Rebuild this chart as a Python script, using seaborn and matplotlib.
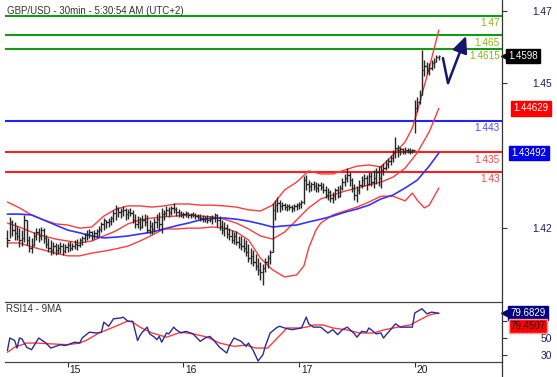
import numpy as np
import pandas as pd
import matplotlib
matplotlib.use("Agg")
import matplotlib.pyplot as plt
import matplotlib.transforms as mtransforms
from matplotlib.lines import Line2D
from matplotlib.patches import FancyArrowPatch
import seaborn as sns

# ---------------- data ----------------
title = "GBP/USD - 30min - 5:30:54 AM (UTC+2)"
rsi_title = "RSI14 - 9MA"

day_idx = [25, 73, 121, 169]
day_labels = ["15", "16", "17", "20"]

price_tick_vals = [1.4713, 1.4529, 1.4157]
price_tick_labels = ["1.47", "1.45", "1.42"]
rsi_tick_vals = [70, 50, 30]
rsi_tick_labels = ["", "50", "30"]

first_open = 1.4131
highs = [
    1.4151, 1.4185, 1.4177, 1.4172, 1.4162, 1.4156, 1.4151, 1.4190, 1.4177, 1.4136,
    1.4131, 1.4146, 1.4156, 1.4156, 1.4159, 1.4156, 1.4138, 1.4131, 1.4126, 1.4120,
    1.4118, 1.4115, 1.4120, 1.4118, 1.4115, 1.4120, 1.4123, 1.4118, 1.4126, 1.4128,
    1.4131, 1.4136, 1.4144, 1.4151, 1.4154, 1.4149, 1.4151, 1.4154, 1.4162, 1.4172,
    1.4182, 1.4177, 1.4182, 1.4187, 1.4203, 1.4215, 1.4210, 1.4208, 1.4213, 1.4208,
    1.4205, 1.4208, 1.4203, 1.4192, 1.4187, 1.4185, 1.4190, 1.4192, 1.4190, 1.4177,
    1.4172, 1.4182, 1.4192, 1.4197, 1.4208, 1.4203, 1.4213, 1.4210, 1.4213, 1.4221,
    1.4210, 1.4205, 1.4200, 1.4197, 1.4200, 1.4197, 1.4195, 1.4197, 1.4195, 1.4192,
    1.4192, 1.4190, 1.4187, 1.4190, 1.4187, 1.4190, 1.4195, 1.4192, 1.4187, 1.4177,
    1.4172, 1.4167, 1.4156, 1.4151, 1.4146, 1.4149, 1.4136, 1.4136, 1.4131, 1.4126,
    1.4115, 1.4105, 1.4100, 1.4090, 1.4079, 1.4069, 1.4064, 1.4079, 1.4087, 1.4100,
    1.4221, 1.4228, 1.4236, 1.4228, 1.4223, 1.4221, 1.4218, 1.4218, 1.4215, 1.4218,
    1.4221, 1.4223, 1.4228, 1.4290, 1.4292, 1.4279, 1.4274, 1.4277, 1.4274, 1.4272,
    1.4274, 1.4272, 1.4264, 1.4259, 1.4254, 1.4249, 1.4259, 1.4264, 1.4267, 1.4285,
    1.4295, 1.4310, 1.4300, 1.4285, 1.4269, 1.4264, 1.4279, 1.4290, 1.4295, 1.4292,
    1.4300, 1.4300, 1.4305, 1.4310, 1.4315, 1.4318, 1.4323, 1.4331, 1.4336, 1.4344,
    1.4356, 1.4390, 1.4369, 1.4364, 1.4362, 1.4364, 1.4362, 1.4362, 1.4359, 1.4485,
    1.4492, 1.4510, 1.4613, 1.4587, 1.4582, 1.4579, 1.4587, 1.4592, 1.4600, 1.4600,
]
lows = [
    1.4108, 1.4131, 1.4136, 1.4126, 1.4126, 1.4108, 1.4110, 1.4120, 1.4113, 1.4095,
    1.4092, 1.4110, 1.4126, 1.4120, 1.4126, 1.4118, 1.4105, 1.4095, 1.4087, 1.4090,
    1.4087, 1.4090, 1.4092, 1.4087, 1.4092, 1.4095, 1.4097, 1.4100, 1.4103, 1.4100,
    1.4108, 1.4113, 1.4120, 1.4126, 1.4131, 1.4126, 1.4128, 1.4131, 1.4136, 1.4146,
    1.4151, 1.4156, 1.4159, 1.4164, 1.4172, 1.4177, 1.4185, 1.4182, 1.4187, 1.4177,
    1.4179, 1.4187, 1.4169, 1.4156, 1.4156, 1.4151, 1.4156, 1.4162, 1.4144, 1.4141,
    1.4141, 1.4146, 1.4156, 1.4151, 1.4144, 1.4177, 1.4187, 1.4185, 1.4190, 1.4195,
    1.4187, 1.4185, 1.4185, 1.4182, 1.4185, 1.4182, 1.4182, 1.4185, 1.4179, 1.4179,
    1.4174, 1.4172, 1.4172, 1.4169, 1.4172, 1.4167, 1.4172, 1.4159, 1.4151, 1.4141,
    1.4136, 1.4131, 1.4126, 1.4118, 1.4115, 1.4113, 1.4105, 1.4100, 1.4095, 1.4085,
    1.4069, 1.4064, 1.4059, 1.4049, 1.4036, 1.4023, 1.4010, 1.4044, 1.4054, 1.4064,
    1.4095, 1.4177, 1.4197, 1.4197, 1.4203, 1.4203, 1.4200, 1.4203, 1.4197, 1.4200,
    1.4203, 1.4205, 1.4208, 1.4218, 1.4254, 1.4249, 1.4251, 1.4254, 1.4249, 1.4249,
    1.4254, 1.4246, 1.4233, 1.4228, 1.4223, 1.4221, 1.4228, 1.4233, 1.4236, 1.4254,
    1.4264, 1.4274, 1.4264, 1.4249, 1.4228, 1.4223, 1.4244, 1.4259, 1.4264, 1.4254,
    1.4267, 1.4264, 1.4259, 1.4269, 1.4264, 1.4259, 1.4292, 1.4305, 1.4310, 1.4318,
    1.4326, 1.4336, 1.4338, 1.4344, 1.4346, 1.4346, 1.4349, 1.4346, 1.4349, 1.4400,
    1.4454, 1.4474, 1.4497, 1.4546, 1.4551, 1.4549, 1.4562, 1.4567, 1.4582, 1.4587,
]
closes = [
    1.4126, 1.4172, 1.4151, 1.4144, 1.4136, 1.4126, 1.4131, 1.4177, 1.4126, 1.4105,
    1.4113, 1.4136, 1.4146, 1.4136, 1.4151, 1.4131, 1.4115, 1.4105, 1.4100, 1.4110,
    1.4100, 1.4105, 1.4110, 1.4097, 1.4108, 1.4113, 1.4105, 1.4110, 1.4115, 1.4113,
    1.4126, 1.4131, 1.4138, 1.4141, 1.4146, 1.4136, 1.4144, 1.4149, 1.4154, 1.4167,
    1.4177, 1.4172, 1.4174, 1.4182, 1.4195, 1.4205, 1.4197, 1.4200, 1.4203, 1.4192,
    1.4197, 1.4195, 1.4177, 1.4167, 1.4172, 1.4159, 1.4177, 1.4172, 1.4151, 1.4162,
    1.4154, 1.4172, 1.4179, 1.4167, 1.4192, 1.4195, 1.4203, 1.4197, 1.4208, 1.4205,
    1.4197, 1.4195, 1.4192, 1.4192, 1.4195, 1.4190, 1.4192, 1.4190, 1.4187, 1.4185,
    1.4182, 1.4179, 1.4182, 1.4177, 1.4179, 1.4182, 1.4190, 1.4177, 1.4162, 1.4151,
    1.4156, 1.4141, 1.4136, 1.4126, 1.4136, 1.4120, 1.4115, 1.4110, 1.4105, 1.4095,
    1.4079, 1.4085, 1.4069, 1.4059, 1.4049, 1.4044, 1.4054, 1.4069, 1.4079, 1.4095,
    1.4203, 1.4215, 1.4221, 1.4213, 1.4215, 1.4210, 1.4213, 1.4210, 1.4208, 1.4213,
    1.4215, 1.4218, 1.4223, 1.4279, 1.4269, 1.4264, 1.4269, 1.4264, 1.4259, 1.4267,
    1.4262, 1.4254, 1.4241, 1.4249, 1.4233, 1.4238, 1.4254, 1.4238, 1.4259, 1.4274,
    1.4285, 1.4292, 1.4279, 1.4259, 1.4241, 1.4254, 1.4267, 1.4279, 1.4285, 1.4269,
    1.4290, 1.4274, 1.4285, 1.4300, 1.4285, 1.4305, 1.4310, 1.4321, 1.4328, 1.4336,
    1.4351, 1.4362, 1.4356, 1.4359, 1.4354, 1.4356, 1.4356, 1.4354, 1.4356, 1.4464,
    1.4479, 1.4497, 1.4562, 1.4572, 1.4562, 1.4567, 1.4579, 1.4582, 1.4595, 1.4598,
]

# Bollinger bands (red) and moving average (blue), read at sample bars
upper_idx = [0, 5, 10, 15, 20, 25, 30, 35, 40, 45, 50, 55, 60, 65, 70, 75, 80, 85, 90, 95,
             100, 105, 110, 115, 120, 125, 130, 135, 140, 145, 150, 155, 160, 165, 168, 170, 175, 179]
upper_val = [1.4223, 1.4208, 1.4190, 1.4177, 1.4167, 1.4164, 1.4156, 1.4159, 1.4187, 1.4205,
             1.4213, 1.4213, 1.4210, 1.4213, 1.4218, 1.4218, 1.4215, 1.4215, 1.4213, 1.4210,
             1.4203, 1.4200, 1.4215, 1.4254, 1.4274, 1.4303, 1.4295, 1.4295, 1.4305, 1.4315,
             1.4318, 1.4313, 1.4344, 1.4377, 1.4413, 1.4454, 1.4567, 1.4664]
mid_idx = [0, 5, 10, 15, 20, 25, 30, 35, 40, 45, 50, 55, 60, 65, 70, 75, 80, 85, 90, 95,
           100, 105, 110, 115, 120, 125, 130, 135, 140, 145, 150, 155, 160, 165, 170, 175, 179]
mid_val = [1.4169, 1.4159, 1.4146, 1.4136, 1.4128, 1.4123, 1.4118, 1.4123, 1.4136, 1.4149,
           1.4167, 1.4177, 1.4182, 1.4185, 1.4187, 1.4190, 1.4187, 1.4185, 1.4179, 1.4169,
           1.4154, 1.4136, 1.4128, 1.4146, 1.4177, 1.4208, 1.4231, 1.4241, 1.4251, 1.4259,
           1.4267, 1.4274, 1.4287, 1.4310, 1.4349, 1.4403, 1.4463]
lower_idx = [0, 5, 10, 15, 20, 25, 30, 35, 40, 45, 50, 55, 60, 65, 70, 75, 80, 85, 90, 95,
             100, 105, 110, 115, 120, 123, 125, 128, 130, 135, 140, 145, 150, 155, 160, 165,
             168, 170, 173, 175, 179]
lower_val = [1.4118, 1.4118, 1.4108, 1.4100, 1.4092, 1.4085, 1.4085, 1.4092, 1.4097, 1.4103,
             1.4110, 1.4123, 1.4138, 1.4154, 1.4154, 1.4156, 1.4156, 1.4159, 1.4156, 1.4146,
             1.4126, 1.4079, 1.4049, 1.4031, 1.4036, 1.4059, 1.4105, 1.4151, 1.4169, 1.4190,
             1.4200, 1.4210, 1.4223, 1.4238, 1.4238, 1.4226, 1.4246, 1.4228, 1.4208, 1.4215,
             1.4259]
ma_idx = [0, 5, 10, 15, 20, 25, 30, 35, 40, 45, 50, 55, 60, 65, 70, 75, 80, 85, 90, 95,
          100, 105, 110, 115, 120, 125, 130, 135, 140, 145, 150, 155, 160, 165, 170, 175, 179]
ma_val = [1.4192, 1.4192, 1.4190, 1.4177, 1.4164, 1.4151, 1.4144, 1.4136, 1.4131, 1.4133,
          1.4136, 1.4141, 1.4146, 1.4154, 1.4162, 1.4169, 1.4177, 1.4182, 1.4182, 1.4179,
          1.4174, 1.4167, 1.4159, 1.4162, 1.4164, 1.4172, 1.4179, 1.4187, 1.4197, 1.4205,
          1.4215, 1.4231, 1.4241, 1.4259, 1.4279, 1.4315, 1.4349]

# support / resistance levels
green_levels = [1.47, 1.465, 1.4615]
green_labels = ["1.47", "1.465", "1.4615"]
blue_levels = [1.443]
blue_labels = ["1.443"]
red_levels = [1.435, 1.43]
red_labels = ["1.435", "1.43"]

# forecast arrow path
fc_idx = [180.7, 182.8, 190.3]
fc_val = [1.4592, 1.4528, 1.4649]

# price boxes
last_price = 1.4598
band_box = 1.44629
ma_box = 1.43492

# RSI
rsi_idx = [0, 1, 3, 4, 5, 6, 8, 10, 13, 16, 18, 20, 22, 24, 26, 28, 30, 31, 34, 37,
           39, 40, 42, 44, 47, 48, 50, 52, 54, 55, 56, 58, 59, 61, 62, 63, 64, 66, 67, 69,
           70, 72, 74, 77, 80, 82, 84, 86, 88, 91, 92, 94, 97, 99, 100, 102, 104, 106, 107, 109,
           112, 113, 115, 118, 122, 124, 125, 127, 130, 133, 135, 137, 139, 141, 144, 145, 147, 149, 150, 153,
           155, 156, 159, 161, 163, 166, 168, 169, 172, 174, 176, 178, 179]
rsi_val = [35, 50, 47, 38, 50, 49, 39, 36, 50, 44, 38, 40, 42, 41, 43, 45, 44, 50, 57, 56,
           57, 69, 64, 73, 74, 75, 70, 70, 47, 53, 57, 63, 55, 51, 48, 52, 45, 56, 55, 63,
           60, 56, 58, 55, 46, 50, 52, 46, 39, 32, 40, 50, 46, 40, 44, 35, 22.5, 30, 40, 56,
           63, 64, 62, 60, 62, 75, 67, 63, 63, 56, 60, 54, 60, 63, 55, 51, 58, 57, 62, 55,
           56, 50, 60, 67, 63, 63, 63, 80, 85, 79, 81, 80, 79.68]
rsi_ma_idx = [0, 3, 8, 12, 18, 25, 30, 33, 38, 44, 50, 52, 55, 60, 66, 72, 77, 83, 88, 94,
              99, 103, 108, 112, 116, 121, 124, 127, 131, 135, 141, 146, 152, 156, 162, 167, 171, 175, 178, 179]
rsi_ma_val = [33, 39, 44, 44, 43, 42, 44, 47.6, 56, 63, 70.4, 69, 63, 56, 51, 57, 55, 51, 44, 40,
              41.6, 38, 38, 50, 62, 62, 63, 65.6, 65.6, 62, 59.6, 56, 56, 59.6, 63, 65.6, 71.6, 77.5, 79.5, 79.45]
rsi_last = 79.6829
rsi_ma_last = 79.4507

# ---------------- style ----------------
sns.set_theme(style="white")
plt.rcParams["font.family"] = ["Liberation Sans", "DejaVu Sans"]

W, H = 557, 377
fig = plt.figure(figsize=(W / 100, H / 100), dpi=100)
fig.patch.set_facecolor("white")
ax = fig.add_axes([5 / W, 1 - 300 / H, 497 / W, 300 / H])
ax2 = fig.add_axes([5 / W, 1 - 362 / H, 497 / W, 60.5 / H])
for a in (ax, ax2):
    a.set_facecolor("none")
    a.set_xlim(-1.0, 205.2)
ax.set_ylim(1.39718, 1.47410)
ax2.set_ylim(21.3, 93.7)

# levels
for v in green_levels:
    ax.axhline(v, color="#159a15", lw=1.5, zorder=1)
for v in blue_levels:
    ax.axhline(v, color="#2323f5", lw=1.5, zorder=1)
for v in red_levels:
    ax.axhline(v, color="#f52020", lw=1.5, zorder=1)

# bands & MA
band_color = "#ff3c3c"
for ix, vals in ((upper_idx, upper_val), (mid_idx, mid_val), (lower_idx, lower_val)):
    sns.lineplot(x=ix, y=vals, ax=ax, color=band_color, lw=1.0, estimator=None,
                 sort=False, legend=False, zorder=2)
sns.lineplot(x=ma_idx, y=ma_val, ax=ax, color="#3434ff", lw=1.2, estimator=None,
             sort=False, legend=False, zorder=2)

# OHLC bars
bar_idx = np.arange(len(closes))
opens = [first_open] + closes[:-1]
bar_col = "#262626"
ax.vlines(bar_idx, lows, highs, colors=bar_col, lw=1.0, zorder=3)
ax.hlines(opens, bar_idx - 0.55, bar_idx, colors=bar_col, lw=0.9, zorder=3)
ax.hlines(closes, bar_idx, bar_idx + 0.55, colors=bar_col, lw=0.9, zorder=3)

# forecast arrow
navy = "#16166e"
ax.plot(fc_idx[:2], fc_val[:2], color=navy, lw=1.8, zorder=4, solid_capstyle="round")
arr = FancyArrowPatch((fc_idx[1], fc_val[1]), (fc_idx[2], fc_val[2]),
                      arrowstyle="-|>,head_length=1.0,head_width=0.45",
                      mutation_scale=10, color=navy, lw=1.8, zorder=4,
                      shrinkA=0, shrinkB=0)
ax.add_patch(arr)

# level labels
trans = mtransforms.blended_transform_factory(fig.transFigure, ax.transData)
for levels, labels, col in ((green_levels, green_labels, "#86b812"),
                            (blue_levels, blue_labels, "#4b4bff"),
                            (red_levels, red_labels, "#ff4646")):
    for v, t in zip(levels, labels):
        ax.annotate(t, xy=(500 / W, v), xycoords=trans, xytext=(0, -1.5),
                    textcoords="offset points", ha="right", va="top",
                    color=col, fontsize=7.2, annotation_clip=False, zorder=5)

# axes styling
for s in ax.spines.values():
    s.set_visible(False)
ax.set_xticks([])
ax.set_xlabel("")
ax.set_ylabel("")
ax.yaxis.tick_right()
ax.set_yticks(price_tick_vals, price_tick_labels)
ax.tick_params(axis="y", which="both", right=True, left=False, length=3.6, width=0.8,
               color="#333333", pad=32.5, labelsize=7.4, labelcolor="#1d1d52", direction="out")
for lbl in ax.get_yticklabels():
    lbl.set_horizontalalignment("right")

# price boxes (main)
box_fs = 7.0
ax.text(508 / W, last_price, f"{last_price:.4f}", transform=trans, ha="left", va="center",
        color="white", fontsize=box_fs, clip_on=False, zorder=6,
        bbox=dict(boxstyle="square,pad=0.22", fc="black", ec="black"))
ax.plot([505 / W], [last_price], marker="<", ms=5.5, color="black", transform=trans,
        clip_on=False, zorder=6)
ax.text(531 / W, band_box, f"{band_box:.5f}", transform=trans, ha="center", va="center",
        color="white", fontsize=box_fs, clip_on=False, zorder=6,
        bbox=dict(boxstyle="square,pad=0.22", fc="#ff0000", ec="#ff0000"))
ax.text(529 / W, ma_box, f"{ma_box:.5f}", transform=trans, ha="center", va="center",
        color="white", fontsize=box_fs, clip_on=False, zorder=6,
        bbox=dict(boxstyle="square,pad=0.22", fc="#0000ee", ec="#0000ee"))

# RSI panel
sns.lineplot(x=rsi_ma_idx, y=rsi_ma_val, ax=ax2, color="#ff3c3c", lw=1.0, estimator=None,
             sort=False, legend=False, zorder=2)
sns.lineplot(x=rsi_idx, y=rsi_val, ax=ax2, color="#2a2a9c", lw=1.0, estimator=None,
             sort=False, legend=False, zorder=3)
for k in ("left", "right"):
    ax2.spines[k].set_visible(False)
for k in ("top", "bottom"):
    ax2.spines[k].set_color("#444444")
    ax2.spines[k].set_linewidth(0.9)
ax2.set_xlabel("")
ax2.set_ylabel("")
ax2.yaxis.tick_right()
ax2.set_yticks(rsi_tick_vals, rsi_tick_labels)
ax2.tick_params(axis="y", right=True, left=False, length=3.6, width=0.8, color="#333333",
                pad=32.5, labelsize=7.4, labelcolor="#1d1d52", direction="out")
for lbl in ax2.get_yticklabels():
    lbl.set_horizontalalignment("right")
ax2.set_xticks(day_idx, day_labels)
ax2.tick_params(axis="x", bottom=True, length=3.6, width=0.8, color="#333333", pad=-1.5,
                labelsize=7.4, labelcolor="#1a1a1a", direction="out")
shift = mtransforms.ScaledTranslation(2 / 100, 0, fig.dpi_scale_trans)
for lbl in ax2.get_xticklabels():
    lbl.set_horizontalalignment("left")
    lbl.set_transform(lbl.get_transform() + shift)

trans2 = mtransforms.blended_transform_factory(fig.transFigure, ax2.transData)
ax2.text(528 / W, rsi_last, f"{rsi_last:.4f}", transform=trans2, ha="center", va="center",
         color="white", fontsize=box_fs, clip_on=False, zorder=6,
         bbox=dict(boxstyle="square,pad=0.2", fc="#000080", ec="#000080"))
ax2.plot([505 / W], [rsi_last], marker="<", ms=5.5, color="#000080", transform=trans2,
         clip_on=False, zorder=6)
ax2.annotate(f"{rsi_ma_last:.4f}", xy=(528 / W, rsi_ma_last), xycoords=trans2,
             xytext=(0, -9), textcoords="offset points", ha="center", va="center",
             color="#111111", fontsize=box_fs, annotation_clip=False, zorder=6,
             bbox=dict(boxstyle="square,pad=0.2", fc="#ff0000", ec="#ff9999"))

# separator / right axis line and titles
fig.add_artist(Line2D([502 / W, 502 / W], [0, 1], transform=fig.transFigure,
                      color="#333333", lw=0.9))
fig.text(7 / W, 1 - 10.5 / H, title, ha="left", va="center", fontsize=7.0, color="#333333")
fig.text(6 / W, 1 - 308.5 / H, rsi_title, ha="left", va="center", fontsize=7.0, color="#333333")

fig.savefig("out.png", dpi=100, facecolor="white")
